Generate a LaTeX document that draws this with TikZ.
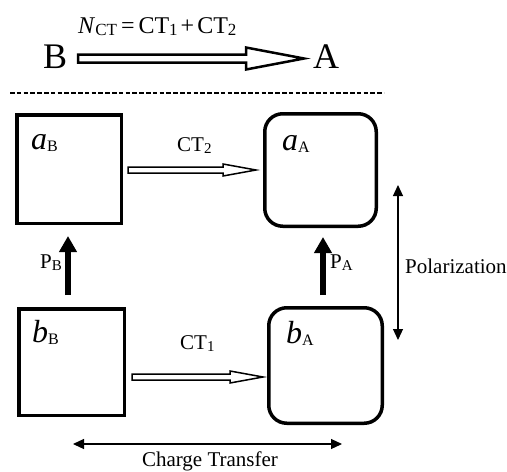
\documentclass[tikz,border=0pt]{standalone}
\usepackage{fontspec}
\setmainfont{Liberation Serif}
\usetikzlibrary{arrows.meta,calc}
\newcommand{\sbs}[2][15]{\raisebox{-2.5pt}{\fontsize{#1}{#1}\selectfont #2}}
\newcommand{\harrow}[6]{%
  \draw[#1] ($(#2)+(0,-#5)$) -- ($(#3)+(-#4,-#5)$) -- ($(#3)+(-#4,-#6)$) -- (#3)
    -- ($(#3)+(-#4,#6)$) -- ($(#3)+(-#4,#5)$) -- ($(#2)+(0,#5)$) -- cycle;}
\begin{document}
\begin{tikzpicture}[x=1pt,y=-1pt,
  box/.style={draw, line width=3.5pt, inner sep=0pt},
  rbox/.style={box, rounded corners=18pt},
  lbl/.style={inner sep=0pt, anchor=base west, font=\fontsize{21}{24}\selectfont},
  eqlbl/.style={inner sep=0pt, anchor=base west, font=\fontsize{24}{26}\selectfont},
  big/.style={inner sep=0pt, anchor=base west, font=\fontsize{32}{34}\selectfont},
  huge/.style={inner sep=0pt, anchor=base west, font=\fontsize{36}{40}\selectfont},
  parrow/.style={line width=6pt, -{Triangle[width=17pt,length=16pt]}},
  dblarrow/.style={line width=1.2pt, {Triangle[width=10pt,length=11pt]}-{Triangle[width=10pt,length=11pt]}},
  hollow/.style={draw, line width=1.5pt, fill=white, line join=miter},
  hollowbig/.style={draw, line width=2.5pt, fill=white, line join=miter}]
\useasboundingbox (0,0) rectangle (507,472);

% top
\node[eqlbl] (eq) at (78,33) {\textit{N}\sbs[17]{CT}\hspace{4pt}=\hspace{4pt}CT\sbs[17]{1}\hspace{3pt}+\hspace{3pt}CT\sbs[17]{2}};
\node[huge] (B) at (43,68) {B};
\node[huge] (A) at (313,68) {A};
\coordinate (bs) at (78,58.5);
\coordinate (bt) at (304,58.5);
\harrow{hollowbig}{bs}{bt}{58}{4}{11}

\draw[line width=1.3pt, dash pattern=on 4.5pt off 2.3pt] (10,93) -- (384,93);

% boxes
\node[box, minimum width=104.5pt, minimum height=108.5pt] (aB) at (69,169) {};
\node[box, minimum width=105.5pt, minimum height=106.5pt] (bB) at (71.5,362) {};
\node[rbox, minimum width=111.5pt, minimum height=112.5pt] (aA) at (320.5,170) {};
\node[rbox, minimum width=113.5pt, minimum height=115.5pt] (bA) at (325.5,365.5) {};

\node[big] (laB) at (31,149) {\textit{a}\sbs[16]{B}};
\node[big] (lbB) at (32,342) {\textit{b}\sbs[16]{B}};
\node[big] (laA) at (282,150) {\textit{a}\sbs[16]{A}};
\node[big] (lbA) at (286,343) {\textit{b}\sbs[16]{A}};

% CT arrows
\node[lbl] (ct2) at (177,151) {CT\sbs{2}};
\node[lbl] (ct1) at (180,349) {CT\sbs{1}};
\coordinate (c2s) at (128,170);
\coordinate (c2t) at (256,170);
\coordinate (c1s) at (132,377);
\coordinate (c1t) at (263,377);
\harrow{hollow}{c2s}{c2t}{33}{3}{6}
\harrow{hollow}{c1s}{c1t}{33}{3}{6}

% polarization arrows
\coordinate (pb1) at (68,295);
\coordinate (pb2) at (68,236);
\coordinate (pa1) at (323,295);
\coordinate (pa2) at (323,237);
\draw[parrow] (pb1) -- (pb2);
\draw[parrow] (pa1) -- (pa2);
\node[lbl] (PB) at (40,268) {P\sbs{B}};
\node[lbl] (PA) at (330,268) {P\sbs{A}};

\coordinate (po1) at (398,185);
\coordinate (po2) at (398,340);
\draw[dblarrow] (po1) -- (po2);
\node[lbl] (pol) at (405,273) {Polarization};

\coordinate (ch1) at (73,444);
\coordinate (ch2) at (342,444);
\draw[dblarrow] (ch1) -- (ch2);
\node[lbl, anchor=base] (chg) at (210,466) {Charge Transfer};
\end{tikzpicture}
\end{document}
